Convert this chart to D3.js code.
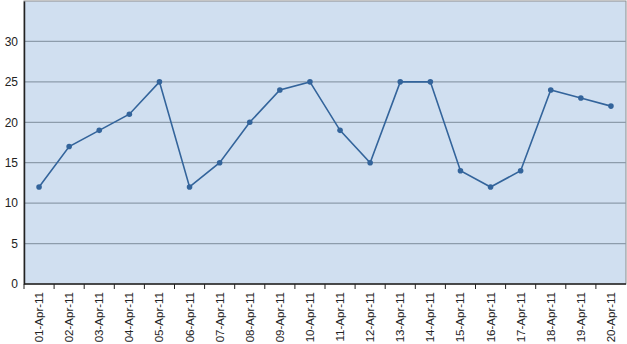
<!DOCTYPE html>
<html>
<head>
<meta charset="utf-8">
<script src="https://cdn.jsdelivr.net/npm/d3@7"></script>
<style>
  body { margin: 0; background: #fff; }
  svg { display: block; font-family: "Liberation Sans", Arial, sans-serif; }
</style>
</head>
<body>
<svg></svg>
<script>
let dates = ['01-Apr-11', '02-Apr-11', '03-Apr-11', '04-Apr-11', '05-Apr-11', '06-Apr-11', '07-Apr-11',
             '08-Apr-11', '09-Apr-11', '10-Apr-11', '11-Apr-11', '12-Apr-11', '13-Apr-11', '14-Apr-11',
             '15-Apr-11', '16-Apr-11', '17-Apr-11', '18-Apr-11', '19-Apr-11', '20-Apr-11']
let values = [12, 17, 19, 21, 25, 12, 15, 20, 24, 25, 19, 15, 25, 25, 14, 12, 14, 24, 23, 22]
let yTicks = [0, 5, 10, 15, 20, 25, 30]

let width = 627
let height = 344
let padLeft = 24
let padRight = 626
let padTop = 1
let padBottom = 284

let svg = d3.select('svg')
    .attr('width', width)
    .attr('height', height)

let xScale = d3.scaleBand()
    .domain(dates)
    .range([padLeft, padRight])

let yScale = d3.scaleLinear()
    .domain([0, 35])
    .range([padBottom, padTop])

// plot background
svg.append('rect')
    .attr('x', padLeft)
    .attr('y', padTop)
    .attr('width', padRight - padLeft)
    .attr('height', padBottom - padTop)
    .attr('fill', '#d0dff0')
    .attr('stroke', '#8c8c8c')
    .attr('stroke-width', 1)

// gridlines
svg.selectAll('line.grid')
    .data(yTicks.filter(d => d > 0))
    .enter()
    .append('line')
    .attr('class', 'grid')
    .attr('x1', padLeft)
    .attr('x2', padRight)
    .attr('y1', d => yScale(d))
    .attr('y2', d => yScale(d))
    .attr('stroke', '#8d9cab')
    .attr('stroke-width', 1.2)

// y axis
let yAxis = d3.axisLeft(yScale)
    .tickValues(yTicks)
    .tickSize(0)
    .tickPadding(6)

let gy = svg.append('g')
    .attr('transform', 'translate(' + padLeft + ', 0)')
    .call(yAxis)
gy.select('.domain').attr('stroke', '#222').attr('stroke-width', 1.5)
gy.selectAll('text').style('font-size', '12px').attr('fill', '#222')

// x axis, ticks between categories
let gx = svg.append('g')
    .attr('transform', 'translate(0, ' + padBottom + ')')
gx.append('line')
    .attr('x1', padLeft)
    .attr('x2', padRight)
    .attr('stroke', '#222')
    .attr('stroke-width', 1.5)
gx.selectAll('line.tk')
    .data(dates)
    .enter()
    .append('line')
    .attr('class', 'tk')
    .attr('x1', d => xScale(d))
    .attr('x2', d => xScale(d))
    .attr('y1', 0)
    .attr('y2', 5)
    .attr('stroke', '#222')
gx.selectAll('text')
    .data(dates)
    .enter()
    .append('text')
    .attr('transform', d => 'translate(' + (xScale(d) + xScale.bandwidth() / 2 + 4) + ', 8) rotate(-90)')
    .attr('text-anchor', 'end')
    .style('font-size', '11.5px')
    .attr('fill', '#222')
    .text(d => d)

// line
let line = d3.line()
    .x((d, i) => xScale(dates[i]) + xScale.bandwidth() / 2)
    .y(d => yScale(d))

svg.append('path')
    .datum(values)
    .attr('d', line)
    .attr('fill', 'none')
    .attr('stroke', '#33649b')
    .attr('stroke-width', 1.6)

svg.selectAll('circle')
    .data(values)
    .enter()
    .append('circle')
    .attr('cx', (d, i) => xScale(dates[i]) + xScale.bandwidth() / 2)
    .attr('cy', d => yScale(d))
    .attr('r', 2.8)
    .attr('fill', '#33649b')
</script>
</body>
</html>
